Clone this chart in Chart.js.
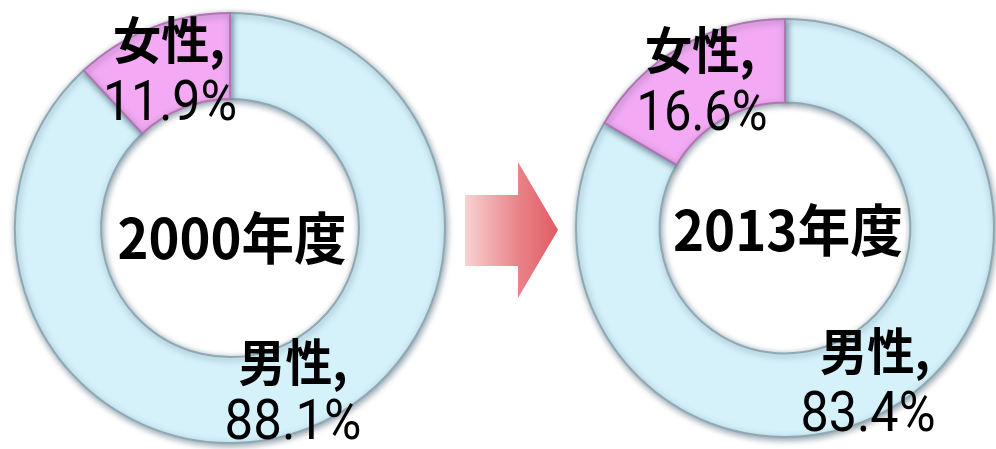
<!DOCTYPE html>
<html>
<head>
<meta charset="utf-8">
<script src="https://cdn.jsdelivr.net/npm/chart.js@4"></script>
<style>
    html, body { margin: 0; padding: 0; background: #fff; overflow: hidden; }
    #wrap { position: relative; width: 996px; height: 449px; }
    .box { position: absolute; top: 0; height: 449px; }
    #box2000 { left: 0; width: 460px; }
    #box2013 { left: 540px; width: 456px; }
    #arrow { position: absolute; left: 460px; top: 155px; }
</style>
</head>
<body>
<div id="wrap">
    <div class="box" id="box2000"><canvas id="chart2000"></canvas></div>
    <svg id="arrow" width="110" height="150" viewBox="460 155 110 150">
        <defs>
            <linearGradient id="arrowGrad" x1="0" y1="0" x2="1" y2="0">
                <stop offset="0" stop-color="#f9d2d2"/>
                <stop offset="0.55" stop-color="#e9868b"/>
                <stop offset="1" stop-color="#e15a63"/>
            </linearGradient>
        </defs>
        <polygon points="465,195 518,195 518,162 558,230 518,298 518,266 465,266" fill="url(#arrowGrad)"/>
    </svg>
    <div class="box" id="box2013"><canvas id="chart2013"></canvas></div>
</div>
<script>
const categories = ['男性', '女性'];
const years = ['2000年度', '2013年度'];
const values2000 = [88.1, 11.9];
const values2013 = [83.4, 16.6];

// label placement relative to the doughnut centre (x, y, target width)
const labelSpots = {
    '2000年度': {
        center: [2, 10, 229],
        name: [[63, 134, 109], [-61, -188, 112]],
        pct: [[63, 197, 137], [-60, -122, 134]]
    },
    '2013年度': {
        center: [3, 2, 230],
        name: [[90, 123, 110], [-85, -178, 110]],
        pct: [[83, 189, 135], [-83, -112, 131]]
    }
};

function fitText(ctx, text, x, y, font, width) {
    ctx.save();
    ctx.font = font;
    ctx.textAlign = 'center';
    ctx.textBaseline = 'middle';
    ctx.fillStyle = '#000';
    const w = ctx.measureText(text).width;
    const sx = width / w;
    ctx.translate(x, y);
    ctx.scale(sx, 1);
    ctx.fillText(text, 0, 0);
    ctx.restore();
}

const ringShadow = {
    id: 'ringShadow',
    beforeDatasetDraw(chart) {
        const ctx = chart.ctx;
        ctx.save();
        ctx.shadowColor = 'rgba(40, 70, 90, 0.5)';
        ctx.shadowBlur = 6;
        ctx.shadowOffsetX = 1;
        ctx.shadowOffsetY = 2;
    },
    afterDatasetDraw(chart) {
        chart.ctx.restore();
    }
};

const ringLabels = {
    id: 'ringLabels',
    afterDraw(chart) {
        const ctx = chart.ctx;
        const arc = chart.getDatasetMeta(0).data[0];
        const cx = arc.x, cy = arc.y;
        const year = chart.options.plugins.title.text;
        const spots = labelSpots[year];
        const vals = chart.data.datasets[0].data;

        const c = spots.center;
        fitText(ctx, year, cx + c[0], cy + c[1], 'bold 56px "Noto Sans CJK JP"', c[2]);

        chart.data.labels.forEach((name, i) => {
            const n = spots.name[i];
            const p = spots.pct[i];
            fitText(ctx, name + ',', cx + n[0], cy + n[1], 'bold 50px "Noto Sans CJK JP"', n[2]);
            fitText(ctx, vals[i].toFixed(1) + '%', cx + p[0], cy + p[1], '56px Roboto', p[2]);
        });
    }
};

function makeChart(id, year, values, padding) {
    const ctx = document.getElementById(id).getContext('2d');
    return new Chart(ctx, {
        type: 'doughnut',
        data: {
            labels: categories,
            datasets: [
                {
                    data: values,
                    backgroundColor: ['#d5f2fb', '#f3a9f3'],
                    borderColor: ['#8fa9b4', '#b374b3'],
                    borderWidth: 2
                }
            ]
        },
        options: {
            responsive: true,
            maintainAspectRatio: false,
            animation: false,
            cutout: '60%',
            layout: { padding: padding },
            plugins: {
                legend: { display: false },
                tooltip: { enabled: false },
                title: { display: false, text: year }
            }
        },
        plugins: [ringShadow, ringLabels]
    });
}

makeChart('chart2000', years[0], values2000, { top: 12, bottom: 5, left: 0, right: 0 });
makeChart('chart2013', years[1], values2013, { top: 17, bottom: 10, left: 35, right: 1 });
</script>
</body>
</html>
